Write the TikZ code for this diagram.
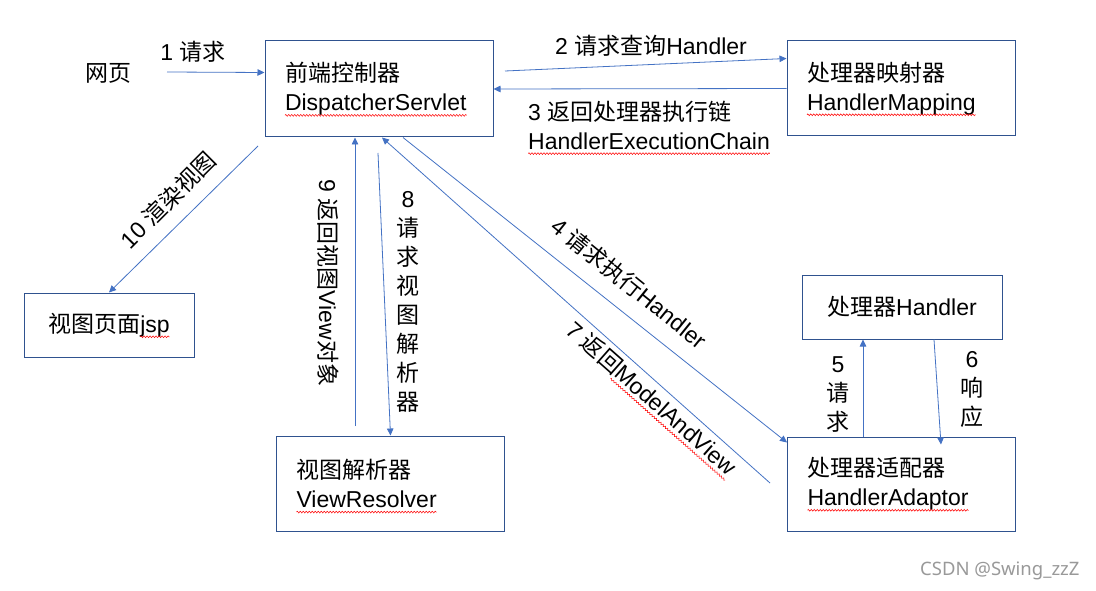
\documentclass[tikz,border=0pt]{standalone}
\usepackage{fontspec}
\setmainfont{Liberation Sans}
\newfontfamily\cjk{Noto Sans CJK SC}
\newfontfamily\wmfont{Noto Sans}
\usetikzlibrary{arrows.meta,calc,decorations.pathmorphing}
\definecolor{lineblue}{HTML}{4472C4}
\definecolor{boxblue}{HTML}{2F528F}
\newsavebox\spellbox
\newlength\spellw
\newcommand\spellwave[1]{\sbox\spellbox{#1}\setlength\spellw{\wd\spellbox}\usebox\spellbox\tikz[overlay,x=1pt,y=1pt]\draw[red,line width=0.5pt,decorate,decoration={zigzag,segment length=3pt,amplitude=0.9pt}] (-\spellw,-4.5pt) -- (0,-4.5pt);}

\begin{document}
\begin{tikzpicture}[x=1pt,y=-1pt,
  box/.style={draw=boxblue, line width=1pt, minimum width=228pt, minimum height=96pt},
  twoline/.style={box, text width=188pt, inner xsep=20pt, align=left},
  arr/.style={draw=lineblue, line width=0.8pt, -{Triangle[length=7pt,width=6.5pt]}},
  lbl/.style={inner sep=1pt},
  every node/.style={font=\fontsize{23}{29}\selectfont}]
\fill[white] (0,0) rectangle (1096,591);
\useasboundingbox (0,0) rectangle (1096,591);
% boxes
\node[twoline] (ds) at (379,89) {{\cjk 前端控制器}\\\spellwave{DispatcherServlet}};
\node[twoline, minimum height=95pt] (hm) at (901,88.5) {{\cjk 处理器映射器}\\\spellwave{HandlerMapping}};
\node[twoline, minimum height=95pt] (vr) at (390.5,483.5) {{\cjk 视图解析器}\\\spellwave{ViewResolver}};
\node[twoline, minimum height=94pt] (ha) at (901.5,484) {{\cjk 处理器适配器}\\\spellwave{HandlerAdaptor}};
\node[box, minimum width=170pt, minimum height=64pt] (jsp) at (109,325) {{\cjk 视图页面}\spellwave{jsp}};
\node[box, minimum width=200pt, minimum height=64pt] (hd) at (902,307) {{\cjk 处理器}Handler};
\node (web) at (108,73) {\cjk 网页};
% free ends
\coordinate (p1) at (167,72);
\coordinate (p2) at (505,71);
\coordinate (p10) at (258,146);
\coordinate (p9) at (355,426);
\coordinate (p8) at (378,153);
\coordinate (p7) at (770,483);
% connectors
\draw[arr] (p1) -- ($(ds.north west)+(0,32)$);
\draw[arr] (p2) -- ($(hm.north west)+(0,18)$);
\draw[arr] (hm.west) -- (ds.east);
\draw[arr] (p10) -- (jsp.north);
\draw[arr] (p9) -- ($(ds.south)+(-24,0)$);
\draw[arr] (p8) -- (vr.north);
\draw[arr] ($(ds.south)+(24,0)$) -- ($(ha.north west)+(0,6)$);
\draw[arr] (p7) -- ($(ds.south)+(3,0)$);
\draw[arr] ($(ha.north)+(-38.5,0)$) -- ($(hd.south)+(-39,0)$);
\draw[arr] ($(hd.south)+(32,0)$) -- ($(ha.north)+(39.5,8)$);
% labels
\node[lbl] (l1) at (193,52) {1 {\cjk 请求}};
\node[lbl] (l2) at (651,46) {2 {\cjk 请求查询}Handler};
\node[lbl, anchor=west, align=left] (l3) at (527,125) {3 {\cjk 返回处理器执行链}\\\spellwave{HandlerExecutionChain}};
\node[lbl, rotate=45] (l10) at (168,200) {10 {\cjk 渲染视图}};
\node[lbl, rotate=-90] (l9) at (328,283) {9 {\cjk 返回视图}View{\cjk 对象}};
\node[lbl, align=center] (l8) at (408,302) {8\\{\cjk 请}\\{\cjk 求}\\{\cjk 视}\\{\cjk 图}\\{\cjk 解}\\{\cjk 析}\\{\cjk 器}};
\node[lbl, rotate=-39] (l4) at (629,283) {4 {\cjk 请求执行}Handler};
\node[lbl, rotate=-41.5] (l7) at (652,398) {7 {\cjk 返回}\spellwave{ModelAndView}};
\node[lbl, align=center] (l5) at (838,395) {5\\{\cjk 请}\\{\cjk 求}};
\node[lbl, align=center] (l6) at (972,389) {6\\{\cjk 响}\\{\cjk 应}};
\node[anchor=east, text=black!40, font=\wmfont\fontsize{18.5}{20}\selectfont] (wm) at (1083,571) {CSDN @Swing\_zzZ};
\end{tikzpicture}
\end{document}
